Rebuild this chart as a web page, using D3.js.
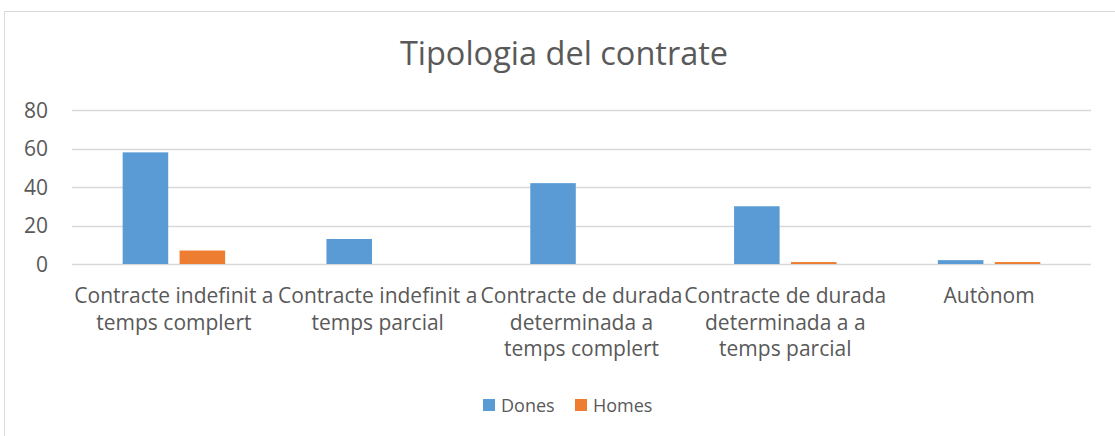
<!DOCTYPE html>
<html>
<head>
<meta charset="utf-8">
<script src="https://cdn.jsdelivr.net/npm/d3@7"></script>
<style>
  body { margin: 0; background: #fff; }
  svg text { font-family: "Open Sans", "Noto Sans", sans-serif; fill: #595959; }
</style>
</head>
<body>
<svg id="chart" width="1115" height="436"></svg>
<script>
// chart data
var categories = [
    ["Contracte indefinit a", "temps complert"],
    ["Contracte indefinit a", "temps parcial"],
    ["Contracte de durada", "determinada a", "temps complert"],
    ["Contracte de durada", "determinada a a", "temps parcial"],
    ["Autònom"]
];
var series = ["Dones", "Homes"];
var dones = [58, 13, 42, 30, 2];
var homes = [7, 0, 0, 1, 1];
var yTicks = [0, 20, 40, 60, 80];
var colors = ["#5B9BD5", "#ED7D31"];

var svg = d3.select("#chart");

// outer border of the chart area (cropped on the right / bottom)
svg.append("rect")
    .attr("x", 4.5).attr("y", 11.5)
    .attr("width", 1130).attr("height", 440)
    .attr("fill", "none")
    .attr("stroke", "#D9D9D9");

svg.append("text")
    .attr("x", 564).attr("y", 65)
    .attr("text-anchor", "middle")
    .attr("font-size", 32.5)
    .text("Tipologia del contrate");

var left = 72, right = 1091;
var y = d3.scaleLinear().domain([0, 80]).range([264, 110]);

var x0 = d3.scaleBand()
    .domain(d3.range(categories.length))
    .range([left, right]);

var x1 = d3.scaleBand()
    .domain(series)
    .range([0, x0.bandwidth()])
    .paddingInner(0.2)
    .paddingOuter(0.89);

// gridlines
svg.append("g")
    .selectAll("line")
    .data(yTicks)
    .enter().append("line")
    .attr("x1", left).attr("x2", right)
    .attr("y1", function (d) { return Math.round(y(d)) + 0.5; })
    .attr("y2", function (d) { return Math.round(y(d)) + 0.5; })
    .attr("stroke", "#D9D9D9")
    .attr("stroke-width", 1.3);

// y labels
svg.append("g")
    .selectAll("text")
    .data(yTicks)
    .enter().append("text")
    .attr("x", 48)
    .attr("y", function (d) { return y(d) + 7.5; })
    .attr("text-anchor", "end")
    .attr("font-size", 21)
    .text(function (d) { return d; });

// bars
var rows = categories.map(function (c, i) {
    return [{ s: "Dones", v: dones[i] }, { s: "Homes", v: homes[i] }];
});

var group = svg.append("g")
    .selectAll("g")
    .data(rows)
    .enter().append("g")
    .attr("transform", function (d, i) { return "translate(" + x0(i) + ",0)"; });

group.selectAll("rect")
    .data(function (d) { return d; })
    .enter().append("rect")
    .attr("x", function (d) { return x1(d.s); })
    .attr("width", x1.bandwidth())
    .attr("y", function (d) { return y(d.v); })
    .attr("height", function (d) { return y(0) - y(d.v); })
    .attr("fill", function (d, i) { return colors[i]; });

// category labels
var labels = svg.append("g")
    .selectAll("text")
    .data(categories)
    .enter().append("text")
    .attr("text-anchor", "middle")
    .attr("font-size", 21)
    .attr("x", function (d, i) { return x0(i) + x0.bandwidth() / 2; })
    .attr("y", 303);

labels.selectAll("tspan")
    .data(function (d) { return d; })
    .enter().append("tspan")
    .attr("x", function () { return d3.select(this.parentNode).attr("x"); })
    .attr("dy", function (d, i) { return i === 0 ? 0 : 26.5; })
    .text(function (d) { return d; });

// legend
var legend = svg.append("g")
    .selectAll("g")
    .data(series)
    .enter().append("g")
    .attr("transform", function (d, i) { return "translate(" + (483 + i * 92) + ",399)"; });

legend.append("rect")
    .attr("width", 12).attr("height", 12)
    .attr("fill", function (d, i) { return colors[i]; });

legend.append("text")
    .attr("x", 18).attr("y", 13)
    .attr("font-size", 18)
    .text(function (d) { return d; });
</script>
</body>
</html>
